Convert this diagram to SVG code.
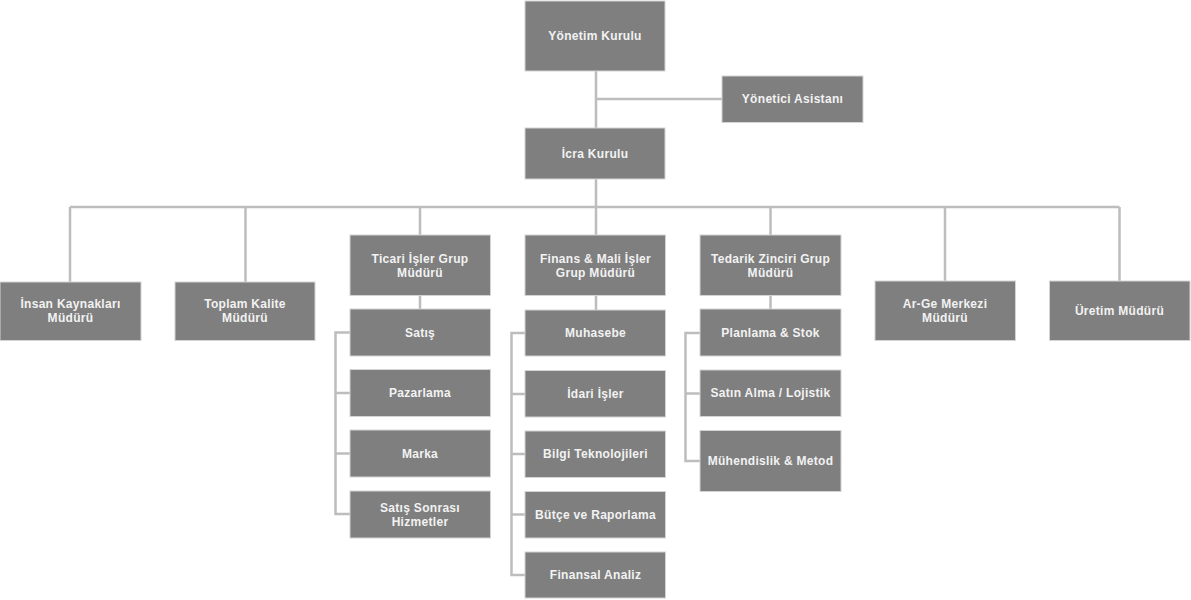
<svg xmlns="http://www.w3.org/2000/svg" width="1191" height="600" viewBox="0 0 1191 600">
<style>
.b{fill:#7f7f7f;stroke:#d4d4d4;stroke-width:1}
.t{font-family:"Liberation Sans",Arial,sans-serif;font-weight:bold;font-size:12px;letter-spacing:0.3px;fill:#f2f2f2;text-anchor:middle;dominant-baseline:central}
.c{fill:none;stroke:#bdbdbd;stroke-width:2.5}
</style>
<rect width="1191" height="600" fill="#ffffff"/>
<g id="connectors">
<path class="c" d="M596,71V128M596,99H722M596,179V207M70,207H1119.5M70,207V282M245.5,207V282M420,207V235M596,207V235M770.5,207V235M945,207V281M1119.5,207V281"/>
<path class="c" d="M420,296V309M596,296V310M770.5,296V309"/>
<path class="c" d="M350,332.5H335.5V514H350M335.5,393H350M335.5,453.5H350"/>
<path class="c" d="M525,333H511.5V575H525M511.5,394H525M511.5,454H525M511.5,514.5H525"/>
<path class="c" d="M700,333H685.5V461H700M685.5,393.5H700"/>
</g>
<g id="yonetim"><rect class="b" x="525" y="1" width="140" height="70"/><text class="t" x="595" y="36">Yönetim Kurulu</text></g>
<g id="asistan"><rect class="b" x="722" y="76" width="141" height="46.5"/><text class="t" x="792.5" y="99">Yönetici Asistanı</text></g>
<g id="icra"><rect class="b" x="525" y="128" width="140" height="51"/><text class="t" x="595" y="153.5">İcra Kurulu</text></g>
<g id="insan"><rect class="b" x="0" y="282" width="141" height="58.5"/><text class="t" x="70.5" y="304">İnsan Kaynakları</text><text class="t" x="70.5" y="318">Müdürü</text></g>
<g id="kalite"><rect class="b" x="175" y="282" width="140" height="58.5"/><text class="t" x="245" y="304">Toplam Kalite</text><text class="t" x="245" y="318">Müdürü</text></g>
<g id="ticari"><rect class="b" x="350" y="235" width="140.5" height="60.5"/><text class="t" x="420" y="258.5">Ticari İşler Grup</text><text class="t" x="420" y="272.5">Müdürü</text></g>
<g id="finans"><rect class="b" x="525" y="235" width="140.5" height="60.5"/><text class="t" x="595.5" y="258.5">Finans &amp; Mali İşler</text><text class="t" x="595.5" y="272.5">Grup Müdürü</text></g>
<g id="tedarik"><rect class="b" x="700" y="235" width="141" height="60.5"/><text class="t" x="770.5" y="258.5">Tedarik Zinciri Grup</text><text class="t" x="770.5" y="272.5">Müdürü</text></g>
<g id="arge"><rect class="b" x="875" y="281" width="140.5" height="59.5"/><text class="t" x="945" y="304">Ar-Ge Merkezi</text><text class="t" x="945" y="318">Müdürü</text></g>
<g id="uretim"><rect class="b" x="1049.5" y="281" width="140.5" height="59.5"/><text class="t" x="1119.5" y="311">Üretim Müdürü</text></g>
<g id="satis"><rect class="b" x="350" y="309" width="140.5" height="47"/><text class="t" x="420" y="332.5">Satış</text></g>
<g id="pazarlama"><rect class="b" x="350" y="369.5" width="140.5" height="47"/><text class="t" x="420" y="393">Pazarlama</text></g>
<g id="marka"><rect class="b" x="350" y="430" width="140.5" height="47"/><text class="t" x="420" y="453.5">Marka</text></g>
<g id="satissonrasi"><rect class="b" x="350" y="491" width="140.5" height="47"/><text class="t" x="420" y="507.5">Satış Sonrası</text><text class="t" x="420" y="521.5">Hizmetler</text></g>
<g id="muhasebe"><rect class="b" x="525" y="310" width="140.5" height="46"/><text class="t" x="595.5" y="333">Muhasebe</text></g>
<g id="idari"><rect class="b" x="525" y="370.5" width="140.5" height="46.5"/><text class="t" x="595.5" y="394">İdari İşler</text></g>
<g id="bilgi"><rect class="b" x="525" y="431" width="140.5" height="46.5"/><text class="t" x="595.5" y="454">Bilgi Teknolojileri</text></g>
<g id="butce"><rect class="b" x="525" y="491.5" width="140.5" height="46.5"/><text class="t" x="595.5" y="514.5">Bütçe ve Raporlama</text></g>
<g id="finansal"><rect class="b" x="525" y="552" width="140.5" height="46"/><text class="t" x="595.5" y="575">Finansal Analiz</text></g>
<g id="planlama"><rect class="b" x="700" y="309" width="141" height="47"/><text class="t" x="770.5" y="332.5">Planlama &amp; Stok</text></g>
<g id="satinalma"><rect class="b" x="700" y="370" width="141" height="46.5"/><text class="t" x="770.5" y="393">Satın Alma / Lojistik</text></g>
<g id="muhendislik"><rect class="b" x="700" y="430.5" width="141" height="61"/><text class="t" x="770.5" y="461">Mühendislik &amp; Metod</text></g>
</svg>
